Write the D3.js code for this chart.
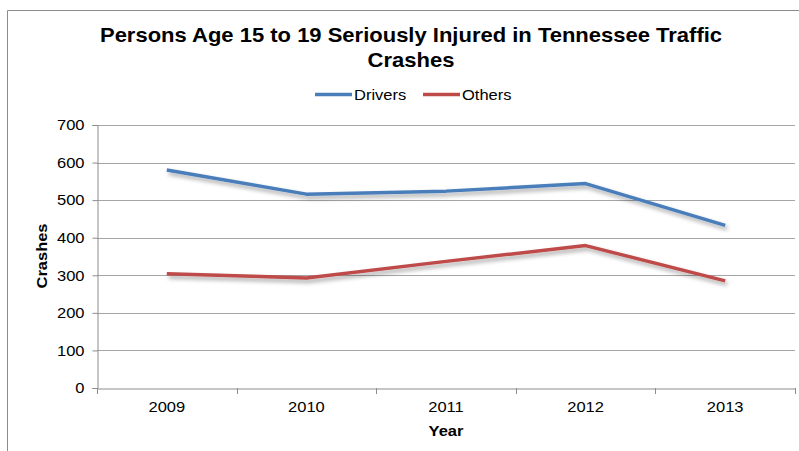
<!DOCTYPE html>
<html><head><meta charset="utf-8">
<script src="https://cdn.jsdelivr.net/npm/d3@7"></script>
<style>body{margin:0;background:#fff;}svg{display:block;}</style>
</head><body>
<script>
const years = ["2009","2010","2011","2012","2013"];
const drivers = [580, 516, 524, 544, 433];
const others = [304, 293, 337, 379, 285];
const yTicks = [0,100,200,300,400,500,600,700];
const seriesNames = ["Drivers","Others"];
const colors = ["#4a7ebb","#be4b48"];

const W = 799, H = 451;
const FONT = "Liberation Sans, Arial, sans-serif";
const SX = 1.1; // horizontal stretch of text seen in reference
const svg = d3.select("body").append("svg").attr("width", W).attr("height", H);
const defs = svg.append("defs");
const f = defs.append("filter").attr("id","sh").attr("x","-10%").attr("y","-50%").attr("width","130%").attr("height","200%");
f.append("feDropShadow").attr("dx",2).attr("dy",3).attr("stdDeviation",2).attr("flood-color","#000").attr("flood-opacity",0.35);

// outer border
svg.append("path").attr("d","M7.5,451 V10.5 H799").attr("fill","none").attr("stroke","#8c8c8c").attr("stroke-width",1);

const m = {l:97, r:795, t:125, b:388};
const x = d3.scaleBand().domain(years).range([m.l, m.r]);
const y = d3.scaleLinear().domain([0,700]).range([m.b, m.t]);

function stretchedText(px, py, txt, opts) {
  const g = svg.append("g").attr("transform", `translate(${px},${py}) scale(${SX},1)`);
  const t = g.append("text").attr("x",0).attr("y",0).attr("font-family",FONT)
    .attr("font-size", opts.size).attr("fill","#000")
    .attr("text-anchor", opts.anchor || "start")
    .attr("font-weight", opts.bold ? "bold" : "normal").text(txt);
  return g;
}

// gridlines
svg.append("g").selectAll("line").data(yTicks.filter(d=>d>0)).join("line")
  .attr("x1", m.l).attr("x2", m.r).attr("y1", d=>Math.round(y(d))+0.5).attr("y2", d=>Math.round(y(d))+0.5)
  .attr("stroke","#a6a6a6").attr("stroke-width",1);

// y axis
const ya = svg.append("g").attr("transform",`translate(${m.l+0.5},0)`)
  .call(d3.axisLeft(y).tickValues(yTicks).tickSize(5).tickPadding(0));
ya.select(".domain").attr("stroke","#8c8c8c");
ya.selectAll(".tick line").attr("stroke","#8c8c8c");
ya.selectAll("text").attr("x",0).attr("transform",`translate(-13,0) scale(${SX},1)`)
  .attr("font-family",FONT).attr("font-size",15).attr("fill","#000");

// x axis
const xa = svg.append("g").attr("transform",`translate(0,${Math.round(m.b)+0.5})`)
  .call(d3.axisBottom(x).tickSize(0).tickPadding(13));
xa.select(".domain").attr("stroke","#8c8c8c");
xa.selectAll("text").attr("transform",`scale(${SX},1)`)
  .attr("font-family",FONT).attr("font-size",15).attr("fill","#000");
const bounds = years.map(d=>x(d)).concat([m.r]);
svg.append("g").selectAll("line").data(bounds).join("line")
  .attr("x1", d=>Math.round(d)+0.5).attr("x2", d=>Math.round(d)+0.5)
  .attr("y1", m.b).attr("y2", m.b+6).attr("stroke","#8c8c8c");

// lines
const line = d3.line().x((d,i)=>x(years[i])+x.bandwidth()/2).y(d=>y(d));
[drivers, others].forEach((s,i)=>{
  svg.append("path").datum(s).attr("d", line).attr("fill","none")
    .attr("stroke", colors[i]).attr("stroke-width",3.5).attr("stroke-linejoin","round")
    .attr("filter","url(#sh)");
});

// title
stretchedText(411, 42, "Persons Age 15 to 19 Seriously Injured in Tennessee Traffic", {size:20, bold:true, anchor:"middle"});
stretchedText(411, 67, "Crashes", {size:20, bold:true, anchor:"middle"});

// legend
const lg = [{x:315}, {x:423}];
seriesNames.forEach((n,i)=>{
  svg.append("line").attr("x1", lg[i].x).attr("x2", lg[i].x+37).attr("y1",94.5).attr("y2",94.5)
    .attr("stroke", colors[i]).attr("stroke-width",3.5);
  stretchedText(lg[i].x+39, 100, n, {size:15});
});

// axis titles
svg.append("text").attr("transform",`translate(47,256) rotate(-90) scale(${SX},1)`).attr("text-anchor","middle")
  .attr("font-family",FONT).attr("font-weight","bold").attr("font-size",15).text("Crashes");
stretchedText(446, 436, "Year", {size:15, bold:true, anchor:"middle"});
</script>
</body></html>
